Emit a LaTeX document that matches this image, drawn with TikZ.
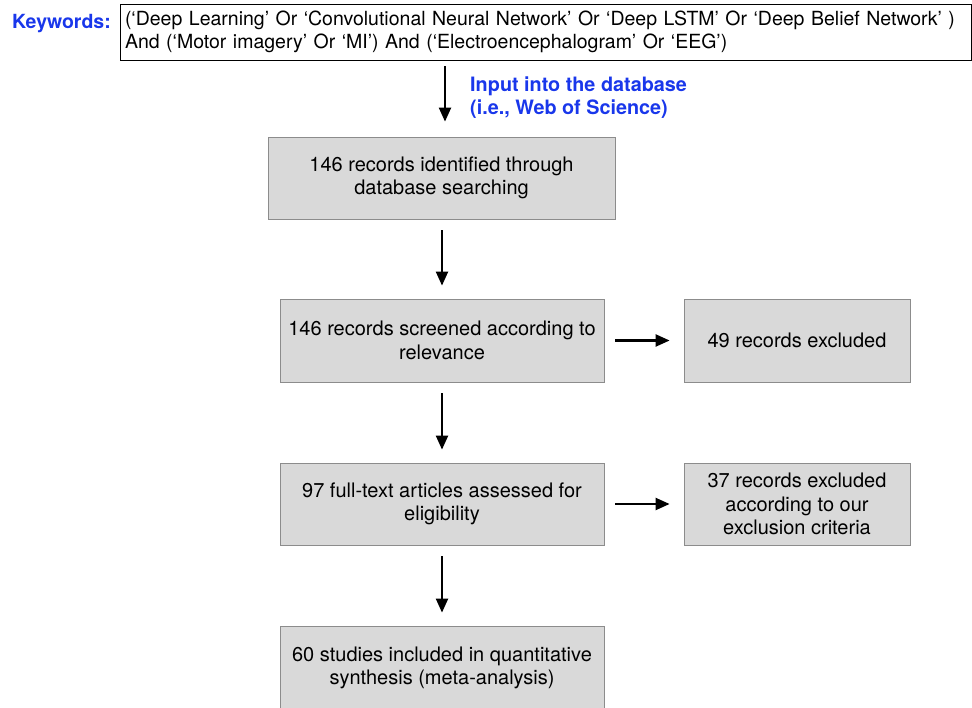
\documentclass[tikz,border=0pt]{standalone}
\usepackage{fontspec}
\setmainfont{TeX Gyre Heros}
\usetikzlibrary{arrows.meta}

\definecolor{kwblue}{RGB}{25,55,235}
\definecolor{boxgray}{RGB}{217,217,217}
\definecolor{edgegray}{RGB}{140,140,140}

\begin{document}
\begin{tikzpicture}[
    x=1pt, y=-1pt,
    every node/.style={font=\fontsize{20}{23.5}\selectfont},
    stagebox/.style={rectangle,draw=edgegray,line width=0.8pt,fill=boxgray,align=center,inner sep=0pt},
    flow/.style={-{Triangle[length=14pt,width=12pt]},line width=2.2pt},
    bluetext/.style={text=kwblue,inner sep=0pt,font=\fontsize{19.8}{23.5}\selectfont\bfseries}
]
\useasboundingbox (0,0) rectangle (972,708);

% search query
\node[draw=black,line width=0.8pt,fill=white,text width=841pt,inner sep=5pt,align=left,minimum height=56pt,
      font=\fontsize{19.5}{23.5}\selectfont] (kw) at (545.5,32)
  {(‘Deep Learning’ Or ‘Convolutional Neural Network’ Or ‘Deep LSTM’ Or ‘Deep Belief Network’ )\\
   And (‘Motor imagery’ Or ‘MI’) And (‘Electroencephalogram’ Or ‘EEG’)};
\node[bluetext,anchor=base east,font=\fontsize{19.5}{23.5}\selectfont\bfseries] (kwlabel) at (111,29) {Keywords:};

% flow boxes
\node[stagebox,minimum width=347pt,minimum height=82pt] (box1) at (441.5,178) {146 records identified through\\database searching};
\node[stagebox,minimum width=324pt,minimum height=83pt] (box2) at (442,340.5) {146 records screened according to\\relevance};
\node[stagebox,minimum width=226pt,minimum height=83pt] (box3) at (797,340.5) {49 records excluded};
\node[stagebox,minimum width=324pt,minimum height=82pt] (box4) at (442,504) {97 full-text articles assessed for\\eligibility};
\node[stagebox,minimum width=226pt,minimum height=82pt] (box5) at (797,504) {37 records excluded\\according to our\\exclusion criteria};
\node[stagebox,minimum width=324pt,minimum height=84pt] (box6) at (442,668) {60 studies included in quantitative\\synthesis (meta-analysis)};

\node[bluetext,anchor=west,align=left] (dbnote) at (470,97.5) {Input into the database\\(i.e., Web of Science)};

% arrows
\draw[flow,shorten <=6pt,shorten >=15pt] ([xshift=3.5pt]box1.north |- kw.south) -- ([xshift=3.5pt]box1.north);
\draw[flow,shorten <=11pt,shorten >=13pt] (box1.south -| box2.north) -- (box2.north);
\draw[flow,shorten <=11pt,shorten >=13pt] (box2) -- (box4);
\draw[flow,shorten <=11pt,shorten >=13pt] (box4) -- (box6);
\draw[flow,shorten <=11pt,shorten >=14pt] (box2) -- (box3);
\draw[flow,shorten <=11pt,shorten >=14pt] (box4) -- (box5);

\end{tikzpicture}
\end{document}
